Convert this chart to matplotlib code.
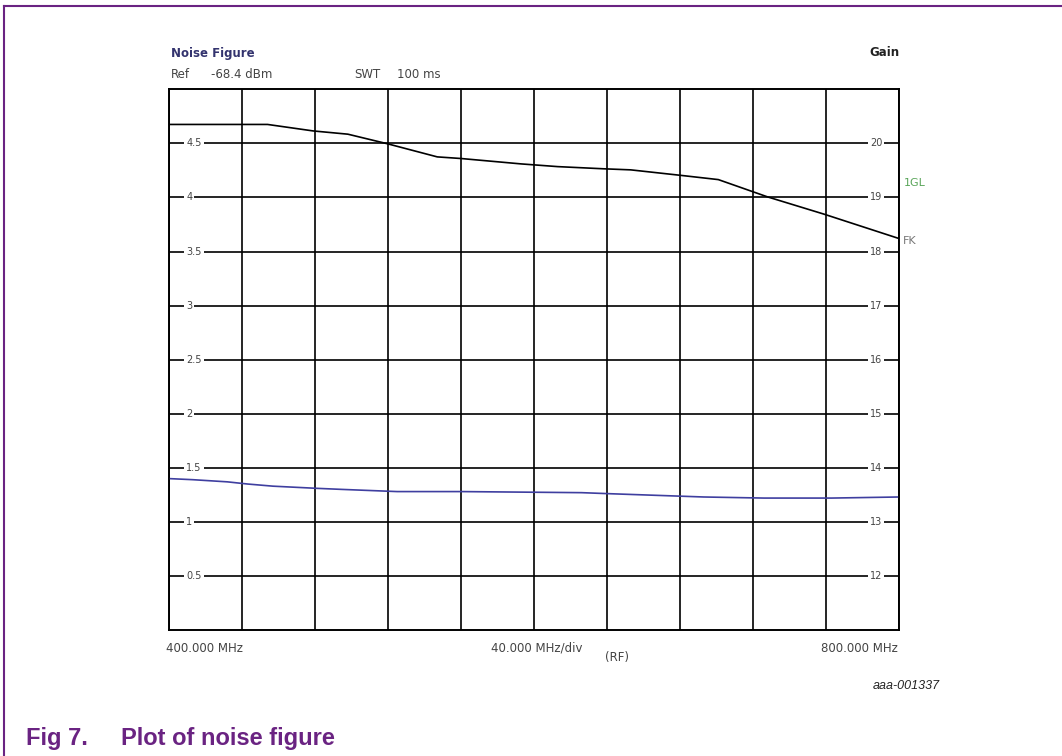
import matplotlib.pyplot as plt
from matplotlib.lines import Line2D

# Noise figure trace (left axis, dB)
nf_freq = [400, 413, 432, 443, 457, 481, 495, 525, 560, 626, 642, 659, 676, 693, 726, 763, 800]
nf_db = [1.40, 1.39, 1.37, 1.35, 1.33, 1.31, 1.30, 1.28, 1.28, 1.27, 1.26, 1.25, 1.24, 1.23, 1.22, 1.22, 1.23]

# Gain trace (right axis, dB)
gain_freq = [400, 454, 479, 498, 520, 547, 560, 593, 613, 638, 653, 680, 701, 728, 759, 800]
gain_db = [20.35, 20.35, 20.23, 20.17, 19.99, 19.75, 19.72, 19.62, 19.57, 19.53, 19.51, 19.41, 19.33, 19.01, 18.69, 18.24]

nf_ticks = [0.5, 1, 1.5, 2, 2.5, 3, 3.5, 4, 4.5]
nf_tick_labels = ['0.5', '1', '1.5', '2', '2.5', '3', '3.5', '4', '4.5']
gain_ticks = [12, 13, 14, 15, 16, 17, 18, 19, 20]
gain_tick_labels = ['12', '13', '14', '15', '16', '17', '18', '19', '20']
freq_grid = [400, 440, 480, 520, 560, 600, 640, 680, 720, 760, 800]

W, H = 1062, 756
PURPLE = '#6a2382'
GRAY = '#444444'


def fx(px):
    return px / W


def fy(py):
    return 1 - py / H


fig = plt.figure(figsize=(W / 100, H / 100), dpi=100)
fig.patch.set_facecolor('white')

# purple document frame (top and left edge)
fig.add_artist(Line2D([fx(4), 1.0], [fy(6), fy(6)], color=PURPLE, lw=1.5))
fig.add_artist(Line2D([fx(4), fx(4)], [fy(6), 0.0], color=PURPLE, lw=1.5))

ax = fig.add_axes([fx(169), fy(630), fx(899) - fx(169), fy(89.3) - fy(630)])
ax2 = ax.twinx()

ax.set_xlim(400, 800)
ax.set_ylim(0, 5)
ax2.set_ylim(11, 21)

ax.set_xticks(freq_grid)
ax.set_yticks(nf_ticks)
ax.grid(True, color='black', lw=1.2)
ax.tick_params(length=0, labelleft=False, labelbottom=False)
ax2.set_yticks([])
for a in (ax, ax2):
    for s in a.spines.values():
        s.set_color('black')
        s.set_linewidth(1.2)

ax.plot(nf_freq, nf_db, color='#3f3fa0', lw=1.2, zorder=3)
ax2.plot(gain_freq, gain_db, color='black', lw=1.2, zorder=3)

# tick labels sit inside the plot, breaking the grid lines
for v, lab in zip(nf_ticks, nf_tick_labels):
    ax.text(0.0235, v, lab, transform=ax.get_yaxis_transform(), ha='left', va='center',
            fontsize=7, color=GRAY, zorder=4,
            bbox=dict(facecolor='white', edgecolor='none', pad=1.5))
for v, lab in zip(gain_ticks, gain_tick_labels):
    ax2.text(0.977, v, lab, transform=ax2.get_yaxis_transform(), ha='right', va='center',
             fontsize=7, color=GRAY, zorder=4,
             bbox=dict(facecolor='white', edgecolor='none', pad=1.5))

# header texts
fig.text(fx(171), fy(53), 'Noise Figure', fontsize=8.5, fontweight='bold', color='#33336e', va='center')
fig.text(fx(899), fy(53), 'Gain', fontsize=8.5, fontweight='bold', color='#222222', va='center', ha='right')
fig.text(fx(171), fy(74), 'Ref', fontsize=8.5, color=GRAY, va='center')
fig.text(fx(211), fy(74), '-68.4 dBm', fontsize=8.5, color=GRAY, va='center')
fig.text(fx(354), fy(74), 'SWT', fontsize=8.5, color=GRAY, va='center')
fig.text(fx(397), fy(74), '100 ms', fontsize=8.5, color=GRAY, va='center')

# trace markers on the right
fig.text(fx(904), fy(183), '1GL', fontsize=8, color='#5aa55a', va='center')
fig.text(fx(903), fy(241), 'FK', fontsize=8, color='#777777', va='center')

# bottom annotations
fig.text(fx(166), fy(648), '400.000 MHz', fontsize=8.5, color=GRAY, va='center')
fig.text(fx(537), fy(648), '40.000 MHz/div', fontsize=8.5, color=GRAY, va='center', ha='center')
fig.text(fx(617), fy(657), '(RF)', fontsize=8.5, color=GRAY, va='center', ha='center')
fig.text(fx(898), fy(648), '800.000 MHz', fontsize=8.5, color=GRAY, va='center', ha='right')
fig.text(fx(940), fy(686), 'aaa-001337', fontsize=9, style='italic', color='#222222',
         va='center', ha='right', family='Liberation Sans')

# figure caption
fig.text(fx(26), fy(745), 'Fig 7.', fontsize=17, fontweight='bold', color=PURPLE,
         va='baseline', family='Liberation Sans')
fig.text(fx(121), fy(745), 'Plot of noise figure', fontsize=17, fontweight='bold', color=PURPLE,
         va='baseline', family='Liberation Sans')

fig.savefig('out.png', dpi=100)
